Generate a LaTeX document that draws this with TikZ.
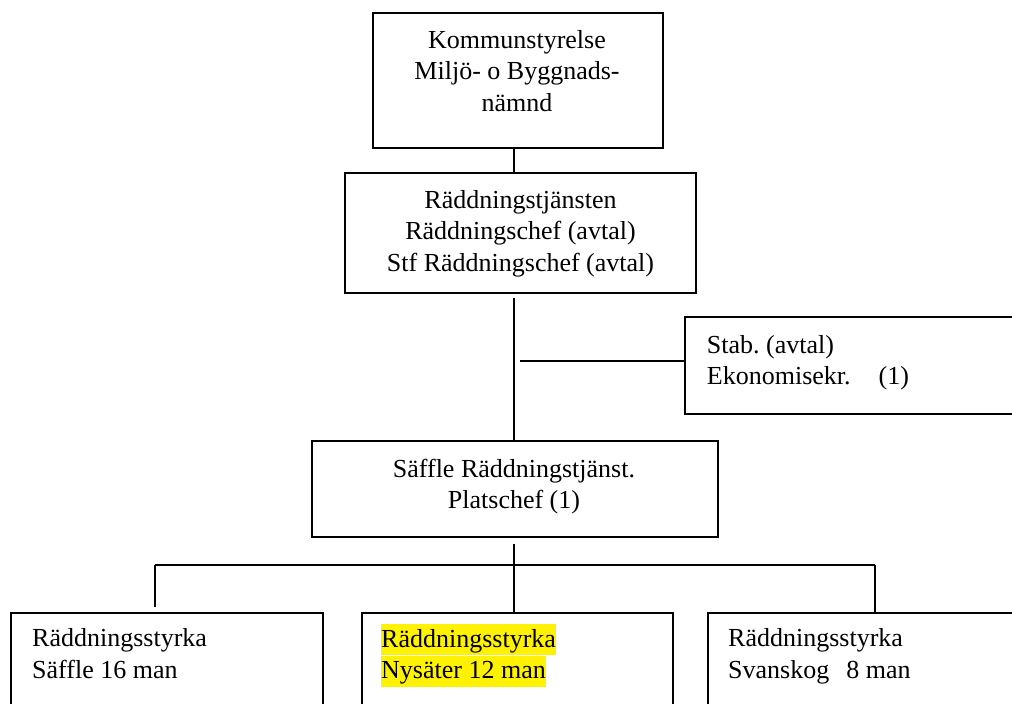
\documentclass[tikz,border=0pt]{standalone}
\usepackage{fontspec}
\setmainfont{Liberation Serif}
\frenchspacing
\newcommand\hlyel[1]{{\fboxsep=0pt\colorbox{yellow}{\rule[-8pt]{0pt}{31pt}#1}}}
\begin{document}
\begin{tikzpicture}[x=1pt,y=-1pt,
  box/.style={draw, line width=2pt, inner sep=0pt},
  conn/.style={line width=1.5pt},
  txt/.style={inner sep=0pt, font=\fontsize{26}{31.5}\selectfont}]
\useasboundingbox (0,0) rectangle (1012,704);
\clip (0,0) rectangle (1012,704);
% boxes
\node[box, minimum width=290pt, minimum height=135pt] (top) at (518,80.4) {};
\node[box, minimum width=351pt, minimum height=120pt] (b2) at (520.5,232.7) {};
\node[box, minimum width=355pt, minimum height=97.3pt] (stab) at (862.5,365.35) {};
\node[box, minimum width=406pt, minimum height=96pt] (saf) at (515,488.7) {};
\node[box, minimum width=312pt, minimum height=129.3pt] (bL) at (167,677.35) {};
\node[box, minimum width=311.5pt, minimum height=129.3pt] (bM) at (517.25,677.35) {};
\node[box, minimum width=332.5pt, minimum height=129.3pt] (bR) at (873.75,677.35) {};
% texts
\node[txt, anchor=north, align=center] (ttop) at (517,30) {Kommunstyrelse\\Miljö- o Byggnads-\\nämnd};
\node[txt, anchor=north, align=center] (tb2) at (520.5,190) {Räddningstjänsten\\Räddningschef (avtal)\\Stf Räddningschef (avtal)};
\node[txt, anchor=north west, align=left] (tstab) at (706.7,335) {Stab. (avtal)\\Ekonomisekr.\hspace{28pt}(1)};
\node[txt, anchor=north, align=center] (tsaf) at (514,458.7) {Säffle Räddningstjänst.\\Platschef (1)};
\node[txt, anchor=north west, align=left] (tl) at (32,628.7) {Räddningsstyrka\\Säffle 16 man};
\node[txt, anchor=north west, align=left] (tm) at (381,624) {\hlyel{Räddningsstyrka}\\\hlyel{Nysäter 12 man}};
\node[txt, anchor=north west, align=left] (tr) at (728,628.7) {Räddningsstyrka\\Svanskog\hspace{17pt}8 man};
% connectors
\coordinate (sp) at (514,0);
\coordinate (brn) at (520,361);
\coordinate (busL) at (155,565);
\coordinate (busR) at (875,565);
\draw[conn] (top.south -| sp) -- (b2.north -| sp);
\draw[conn] ([yshift=-4pt]b2.south -| sp) -- (saf.north -| sp);
\draw[conn] (brn) -- (brn -| stab.west);
\draw[conn] ([yshift=-6pt]saf.south -| sp) -- (sp |- busL);
\draw[conn] (busL) -- (busR);
\draw[conn] (busL) -- ([yshift=5pt]bL.north -| busL);
\draw[conn] (sp |- busL) -- (bM.north -| sp);
\draw[conn] (busR) -- (bR.north -| busR);
\end{tikzpicture}
\end{document}
